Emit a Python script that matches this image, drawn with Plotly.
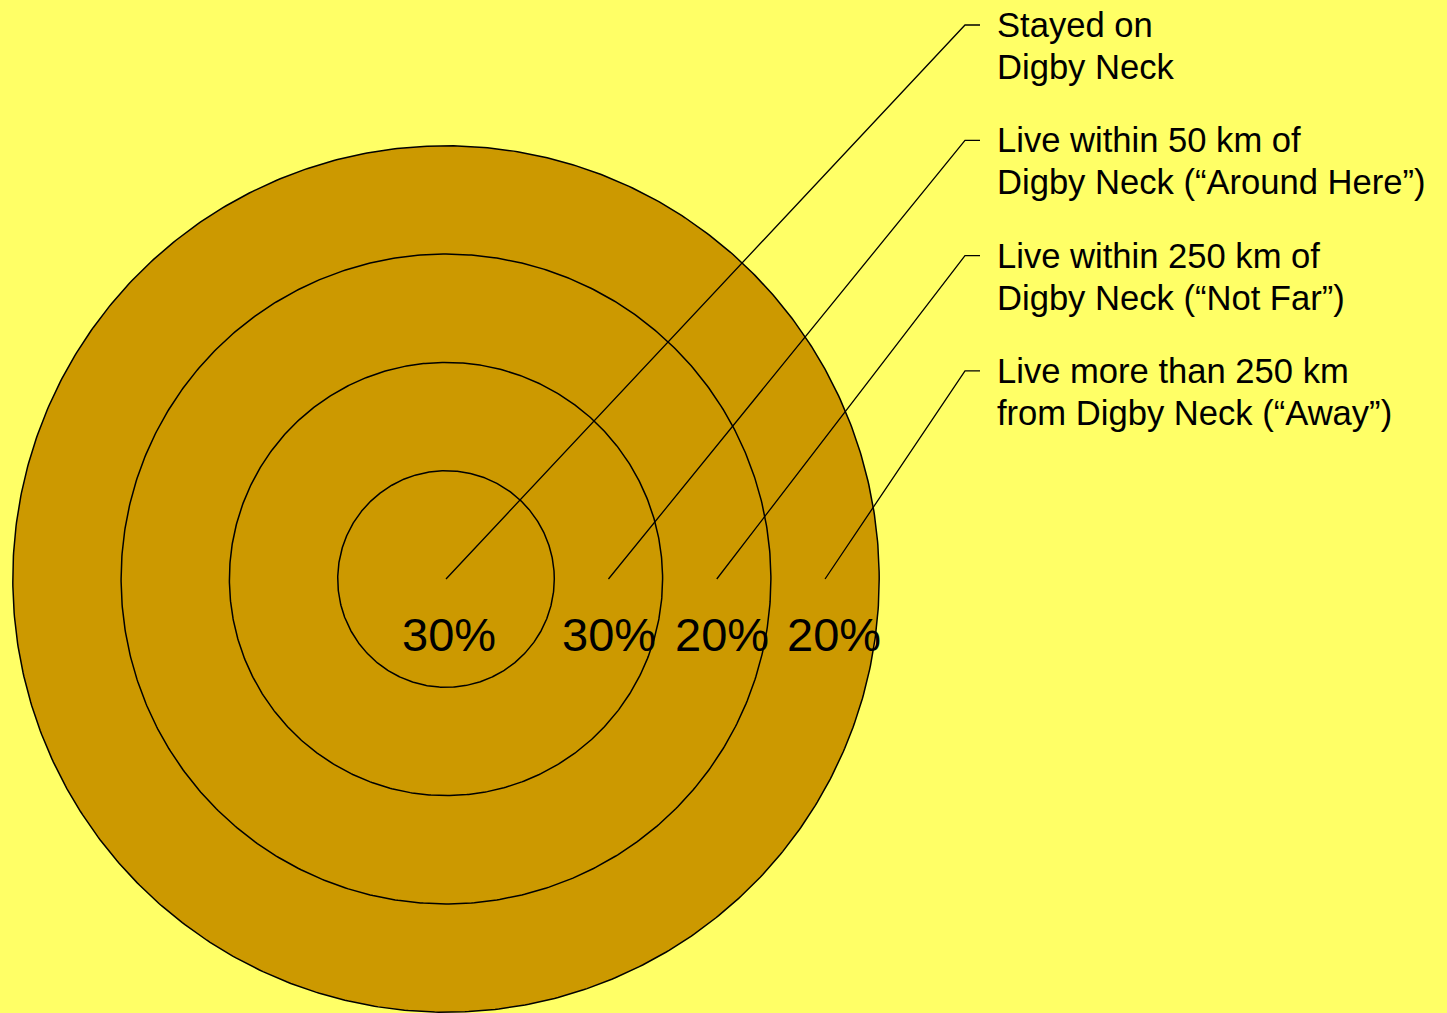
import numpy as np
import plotly.graph_objects as go

# ---- data ----
categories = [
    "Stayed on<br>Digby Neck",
    "Live within 50 km of<br>Digby Neck (“Around Here”)",
    "Live within 250 km of<br>Digby Neck (“Not Far”)",
    "Live more than 250 km<br>from Digby Neck (“Away”)",
]
values = [30, 30, 20, 20]
value_labels = [f"{v}%" for v in values]

# ---- layout constants (pixel space) ----
W, H = 1447, 1013
CX, CY = 446, 579          # center of the bullseye
UNIT = 108.3               # ring width
BG = "#FFFF66"
FILL = "#CC9900"
FONT = "Liberation Sans, Arial, sans-serif"
ELBOW_X, TICK_END_X, TEXT_X = 965, 980, 995
LEGEND_TOP, LEGEND_STEP = 25, 115.3
LINE_GAP = 42
PCT_Y = 634
PCT_DX = [3, 1, 5, 9]

fig = go.Figure()

n = len(values)
theta = np.linspace(0, 2 * np.pi, 721)
for i in range(n - 1, -1, -1):
    r = (i + 1) * UNIT
    fig.add_trace(go.Scatter(
        x=CX + r * np.cos(theta), y=CY + r * np.sin(theta),
        mode="lines", fill="toself", fillcolor=FILL,
        line=dict(color="black", width=1.5),
        hoverinfo="skip", showlegend=False,
    ))

for i, (cat, lab) in enumerate(zip(categories, value_labels)):
    mid = 0 if i == 0 else (i + 0.5)
    x0 = CX + mid * UNIT
    ey = LEGEND_TOP + i * LEGEND_STEP
    fig.add_trace(go.Scatter(
        x=[x0, ELBOW_X, TICK_END_X], y=[CY, ey, ey],
        mode="lines", line=dict(color="black", width=1.3),
        hoverinfo="skip", showlegend=False,
    ))
    for j, line in enumerate(cat.split("<br>")):
        fig.add_annotation(
            x=TEXT_X, y=ey + j * LINE_GAP, text=line, showarrow=False,
            xanchor="left", yanchor="middle",
            font=dict(family=FONT, size=34.6, color="black"),
        )
    fig.add_annotation(
        x=x0 + PCT_DX[i], y=PCT_Y, text=lab, showarrow=False,
        xanchor="center", yanchor="middle",
        font=dict(family=FONT, size=47, color="black"),
    )

fig.update_layout(
    width=W, height=H,
    margin=dict(l=0, r=0, t=0, b=0),
    paper_bgcolor=BG, plot_bgcolor=BG,
    xaxis=dict(range=[0, W], visible=False, fixedrange=True),
    yaxis=dict(range=[H, 0], visible=False, fixedrange=True),
    showlegend=False,
)

fig.write_html(
    "out.html",
    config={"displayModeBar": False},
    post_script="document.body.style.margin='0';document.body.style.background='" + BG + "';",
)
